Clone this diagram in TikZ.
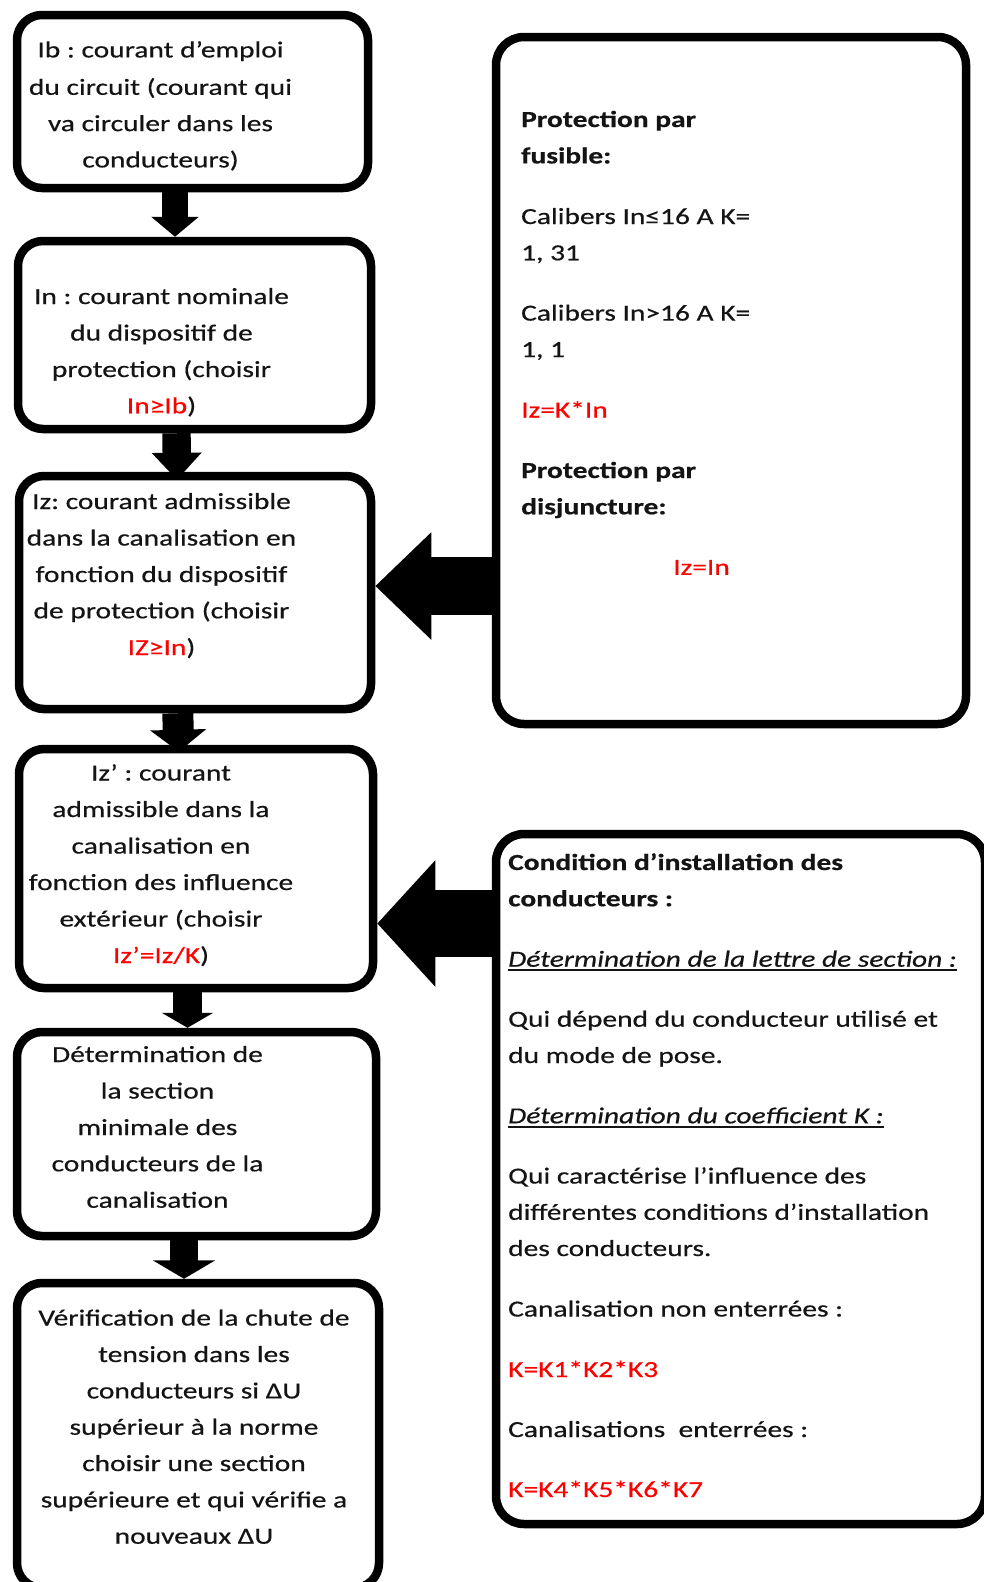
\documentclass[tikz,border=0pt]{standalone}
\usepackage{fontspec}
\setmainfont{Carlito}[FakeStretch=1.28,FakeBold=0.5]
\usetikzlibrary{arrows.meta}
\definecolor{hot}{RGB}{255,0,0}
\definecolor{ink}{RGB}{20,20,20}
\newcommand{\hl}[1]{{\color{hot}#1}}
\frenchspacing
\begin{document}
\begin{tikzpicture}[x=1pt,y=-1pt,
  stepbox/.style={draw=black,line width=8.5pt,rounded corners=25pt,inner sep=0pt,fill=white},
  sidebox/.style={stepbox,rounded corners=28pt},
  ln/.style={anchor=base,inner sep=0pt,text=ink,font=\fontsize{23}{28}\selectfont},
  lnw/.style={ln,anchor=base west},
  uline/.style={draw=ink,line width=1.6pt},
  flow/.style={draw=black},
  bigarrow/.style={draw=black}]
\useasboundingbox (0,0) rectangle (984,1582);
\fill[white] (0,0) rectangle (984,1582);

% left column of steps
\node[stepbox,minimum width=351pt,minimum height=173pt] (b1) at (192.5,101.5) {};
\node[stepbox,minimum width=353pt,minimum height=188pt] (b2) at (194.5,335) {};
\node[stepbox,minimum width=352pt,minimum height=233pt] (b3) at (195,592.5) {};
\node[stepbox,minimum width=354pt,minimum height=239pt] (b4) at (196,868.5) {};
\node[stepbox,minimum width=359pt,minimum height=204pt] (b5) at (196.5,1134) {};
\node[stepbox,minimum width=362pt,minimum height=305pt] (b6) at (198,1435.5) {};

% right column of notes
\node[sidebox,minimum width=470pt,minimum height=687pt] (r1) at (731,380.5) {};
\node[sidebox,minimum width=489pt,minimum height=690pt] (r2) at (740.5,1179) {};

% arrows between the steps
\path ([xshift=-17.5pt]b1.south) coordinate (s1);
\draw[flow,line width=26.6pt,-{Triangle[length=20pt,width=46.6pt]}] (s1) -- (s1 |- b2.north);
\path ([xshift=-18pt]b2.south) coordinate (s2);
\path ([xshift=-18pt,yshift=-8pt]b3.north) coordinate (e2);
\draw[flow,line width=28.4pt,-{Triangle[length=27pt,width=48.3pt]}] (s2) -- (e2);
\path ([xshift=-17.2pt]b3.south) coordinate (s3);
\path ([xshift=-17.2pt,yshift=-7pt]b4.north) coordinate (e3);
\draw[flow,line width=31pt,-{Triangle[length=22pt,width=55pt]}] (s3) -- (e3);
\path ([xshift=-8.5pt]b4.south) coordinate (s4);
\draw[flow,line width=28.4pt,-{Triangle[length=15pt,width=51pt]}] (s4) -- (s4 |- b5.north);
\path ([xshift=-12.5pt]b5.south) coordinate (s5);
\draw[flow,line width=28.3pt,-{Triangle[length=18.4pt,width=61.6pt]}] (s5) -- (s5 |- b6.north);

% wide arrows from the notes to the steps
\path ([yshift=6.5pt]b3.east) coordinate (t1);
\draw[bigarrow,line width=58pt,-{Triangle[length=56pt,width=104pt]}] (t1 -| r1.west) -- (t1);
\path ([yshift=-55pt]b4.east) coordinate (t2);
\draw[bigarrow,line width=67pt,-{Triangle[length=58pt,width=123pt]}] (t2 -| r2.west) -- (t2);

% texts of the steps
\node[ln] (b1a) at (160.5,57.4) {Ib : courant d’emploi};
\node[ln] (b1b) at (160.5,94.8) {du circuit (courant qui};
\node[ln] (b1c) at (160.5,131.1) {va circuler dans les};
\node[ln] (b1d) at (160.5,167.4) {conducteurs)};

\node[ln] (b2a) at (161.5,304) {In : courant nominale};
\node[ln] (b2b) at (161.5,340.5) {du dispositif de};
\node[ln] (b2c) at (161.5,377) {protection (choisir};
\node[ln] (b2d) at (161.5,413.3) {\hl{In≥Ib})};

\node[ln] (b3a) at (161.5,509) {Iz: courant admissible};
\node[ln] (b3b) at (161.5,545.5) {dans la canalisation en};
\node[ln] (b3c) at (161.5,582) {fonction du dispositif};
\node[ln] (b3d) at (161.5,618.3) {de protection (choisir};
\node[ln] (b3e) at (161.5,655) {\hl{IZ≥In})};

\node[ln] (b4a) at (161,780.5) {Iz’ : courant};
\node[ln] (b4b) at (161,817) {admissible dans la};
\node[ln] (b4c) at (161,853.5) {canalisation en};
\node[ln] (b4d) at (161,890) {fonction des influence};
\node[ln] (b4e) at (161,926.5) {extérieur (choisir};
\node[ln] (b4f) at (161,963) {\hl{Iz’=Iz/K})};

\node[ln] (b5a) at (157.5,1062) {Détermination de};
\node[ln] (b5b) at (157.5,1098.5) {la section};
\node[ln] (b5c) at (157.5,1135) {minimale des};
\node[ln] (b5d) at (157.5,1171.3) {conducteurs de la};
\node[ln] (b5e) at (157.5,1207.7) {canalisation};

\node[ln] (b6a) at (194,1325.5) {Vérification de la chute de};
\node[ln] (b6b) at (194,1362) {tension dans les};
\node[ln] (b6c) at (194,1398.4) {conducteurs si ΔU};
\node[ln] (b6d) at (194,1434.7) {supérieur à la norme};
\node[ln] (b6e) at (194,1471) {choisir une section};
\node[ln] (b6f) at (194,1507.4) {supérieure et qui vérifie a};
\node[ln] (b6g) at (194,1543.7) {nouveaux ΔU};

% texts of the protection note
\node[lnw] (r1a) at (521,127) {\textbf{Protection par}};
\node[lnw] (r1b) at (521,163.4) {\textbf{fusible:}};
\node[lnw] (r1c) at (521,224) {Calibers In≤16 A K=};
\node[lnw] (r1d) at (521,260.3) {1, 31};
\node[lnw] (r1e) at (521,320.6) {Calibers In>16 A K=};
\node[lnw] (r1f) at (521,357) {1, 1};
\node[lnw] (r1g) at (521,417.5) {\hl{Iz=K*In}};
\node[lnw] (r1h) at (521,478) {\textbf{Protection par}};
\node[lnw] (r1i) at (521,514.3) {\textbf{disjuncture:}};
\node[ln] (r1j) at (701.5,574.8) {\hl{Iz=In}};

% texts of the installation note
\node[lnw] (r2a) at (508,870) {\textbf{Condition d’installation des}};
\node[lnw] (r2b) at (508,906.3) {\textbf{conducteurs :}};
\node[lnw] (r2c) at (508,966.7) {\textit{Détermination de la lettre de section :}};
\draw[uline] ([yshift=-3.5pt]r2c.base west) -- ([yshift=-3.5pt]r2c.base east);
\node[lnw] (r2d) at (508,1026.7) {Qui dépend du conducteur utilisé et};
\node[lnw] (r2e) at (508,1063) {du mode de pose.};
\node[lnw] (r2f) at (508,1123.3) {\textit{Détermination du coefficient K :}};
\draw[uline] ([yshift=-3.5pt]r2f.base west) -- ([yshift=-3.5pt]r2f.base east);
\node[lnw] (r2g) at (508,1183.5) {Qui caractérise l’influence des};
\node[lnw] (r2h) at (508,1219.8) {différentes conditions d’installation};
\node[lnw] (r2i) at (508,1256) {des conducteurs.};
\node[lnw] (r2j) at (508,1316.5) {Canalisation non enterrées :};
\node[lnw] (r2k) at (508,1377) {\hl{K=K1*K2*K3}};
\node[lnw] (r2l) at (508,1437) {Canalisations~ enterrées :};
\node[lnw] (r2m) at (508,1497) {\hl{K=K4*K5*K6*K7}};
\end{tikzpicture}
\end{document}
